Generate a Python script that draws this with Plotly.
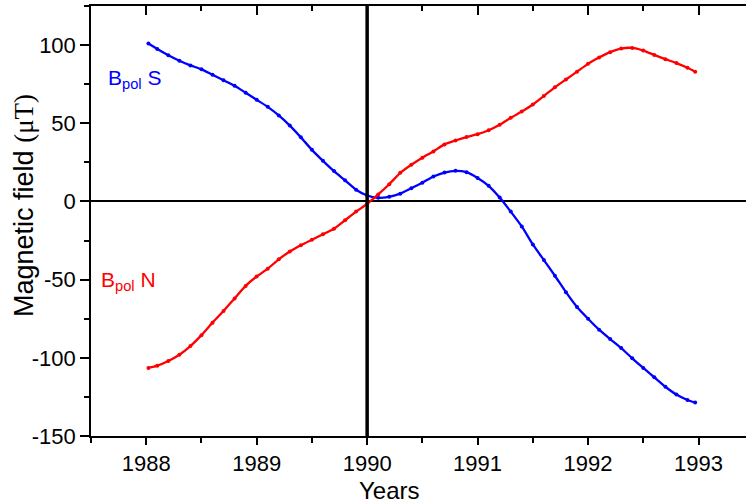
import plotly.graph_objects as go

# ---- data ----
years_s = [1988.02, 1988.1, 1988.2, 1988.3, 1988.4, 1988.5, 1988.6, 1988.7, 1988.8, 1988.9,
           1989.0, 1989.1, 1989.2, 1989.3, 1989.4, 1989.5, 1989.6, 1989.7, 1989.8, 1989.9,
           1990.0, 1990.1, 1990.2, 1990.3, 1990.4, 1990.5, 1990.6, 1990.7, 1990.8, 1990.9,
           1991.0, 1991.1, 1991.2, 1991.3, 1991.4, 1991.5, 1991.6, 1991.7, 1991.8, 1991.9,
           1992.0, 1992.1, 1992.2, 1992.3, 1992.4, 1992.5, 1992.6, 1992.7, 1992.8, 1992.9, 1992.97]
bpol_s = [101, 97.5, 93.5, 90, 87, 84.5, 81, 77.5, 74, 69.5,
          65, 60.5, 55, 48.5, 41, 33, 26, 19.4, 13.5, 7.5,
          3.8, 2.3, 3, 5, 8.5, 12, 16, 18.5, 19.6, 18.7,
          15, 10, 2.5, -6.5, -16, -27.5, -37.5, -47.5, -58, -67.5,
          -75, -82, -88, -93.8, -100.3, -106.5, -112.5, -118.5, -123.5, -127, -128.6]

years_n = [1988.02, 1988.1, 1988.2, 1988.3, 1988.4, 1988.5, 1988.6, 1988.7, 1988.8, 1988.9,
           1989.0, 1989.1, 1989.2, 1989.3, 1989.4, 1989.5, 1989.6, 1989.7, 1989.8, 1989.9,
           1990.0, 1990.1, 1990.2, 1990.3, 1990.4, 1990.5, 1990.6, 1990.7, 1990.8, 1990.9,
           1991.0, 1991.1, 1991.2, 1991.3, 1991.4, 1991.5, 1991.6, 1991.7, 1991.8, 1991.9,
           1992.0, 1992.1, 1992.2, 1992.3, 1992.4, 1992.5, 1992.6, 1992.7, 1992.8, 1992.9, 1992.97]
bpol_n = [-106.5, -105, -102, -98, -92.5, -85.5, -77.5, -70, -62, -54,
          -48, -43, -37, -32, -28, -24.5, -21, -17.5, -12, -6.5,
          -1.5, 4.5, 11, 18.3, 23.5, 28, 32, 36.5, 39, 41.2,
          43, 45.5, 49, 53.5, 57.5, 62, 67.5, 73, 78, 83,
          88, 92, 95.5, 97.8, 98.2, 96.5, 93.7, 91, 88.5, 85.5, 83]

event_year = 1990
x_range = [1987.5, 1993.43]
y_range = [-150, 125]
y_ticks = [-150, -100, -50, 0, 50, 100]
y_ticktext = ["-150", "-100", "-50", "0", "50", "100"]
x_ticks = [1988, 1989, 1990, 1991, 1992, 1993]

FONT = "Liberation Sans, Arial, sans-serif"
BLUE = "#0000FF"
RED = "#FF0000"

fig = go.Figure()
fig.add_trace(go.Scatter(x=years_s, y=bpol_s, mode="lines+markers",
                         line=dict(color=BLUE, width=2.3, shape="spline", smoothing=0.6),
                         marker=dict(color=BLUE, size=4), showlegend=False))
fig.add_trace(go.Scatter(x=years_n, y=bpol_n, mode="lines+markers",
                         line=dict(color=RED, width=2.3, shape="spline", smoothing=0.6),
                         marker=dict(color=RED, size=4), showlegend=False))
# dummy trace to activate the top mirror axis
fig.add_trace(go.Scatter(x=[None], y=[None], xaxis="x2", yaxis="y", showlegend=False,
                         hoverinfo="skip"))

fig.add_shape(type="line", x0=event_year, x1=event_year, y0=0, y1=1,
              xref="x", yref="paper", line=dict(color="black", width=3.5), layer="above")

fig.add_annotation(x=1987.64, y=78, xref="x", yref="y", xanchor="left", yanchor="middle",
                   text="B<sub>pol</sub> S", showarrow=False,
                   font=dict(family=FONT, size=21, color=BLUE))
fig.add_annotation(x=1987.57, y=-51, xref="x", yref="y", xanchor="left", yanchor="middle",
                   text="B<sub>pol</sub> N", showarrow=False,
                   font=dict(family=FONT, size=21, color=RED))

# axis titles as annotations for exact placement
fig.add_annotation(x=0, y=0.535, xref="paper", yref="paper", xanchor="center", yanchor="middle",
                   xshift=-67, text="Magnetic field <span style='font-family:Liberation Serif'>(μT)</span>",
                   textangle=-90, showarrow=False,
                   font=dict(family=FONT, size=27, color="black"))
fig.add_annotation(x=1990.2, y=0, xref="x", yref="paper", xanchor="center", yanchor="top",
                   yshift=-39, text="Years", showarrow=False,
                   font=dict(family=FONT, size=24, color="black"))

fig.update_layout(
    width=746, height=504,
    margin=dict(l=91, r=0, t=6, b=68, autoexpand=False),
    paper_bgcolor="white", plot_bgcolor="white",
    font=dict(family=FONT, color="black"),
    xaxis=dict(range=x_range, tickvals=x_ticks, ticks="outside", ticklen=7, tickwidth=1.5,
               tickcolor="black", showline=True, linecolor="black", linewidth=1.5,
               showgrid=False, zeroline=False, tickfont=dict(size=22, family=FONT),
               automargin=False,
               minor=dict(dtick=0.5, tick0=1987.5, ticks="outside", ticklen=5, tickwidth=1.5,
                          tickcolor="black", showgrid=False)),
    xaxis2=dict(range=x_range, overlaying="x", side="top", anchor="y", tickvals=x_ticks,
                ticks="inside", ticklen=9, tickwidth=1.5, tickcolor="black",
                showline=True, linecolor="black", linewidth=1.5, showticklabels=False,
                showgrid=False, zeroline=False, automargin=False,
                minor=dict(dtick=0.5, tick0=1987.5, ticks="inside", ticklen=5, tickwidth=1.5,
                           tickcolor="black", showgrid=False)),
    yaxis=dict(range=y_range, tickvals=y_ticks, ticktext=y_ticktext, ticks="outside", ticklen=9,
               tickwidth=1.5, tickcolor="black", showline=True, linecolor="black", linewidth=1.5,
               showgrid=False, zeroline=True, zerolinecolor="black", zerolinewidth=1.5,
               tickfont=dict(size=22, family=FONT), automargin=False,
               minor=dict(dtick=25, tick0=0, ticks="outside", ticklen=5, tickwidth=1.5,
                          tickcolor="black", showgrid=False)),
)

fig.write_html("out.html", config={"displayModeBar": False},
               post_script="document.body.style.margin='0';document.body.style.padding='0';")
